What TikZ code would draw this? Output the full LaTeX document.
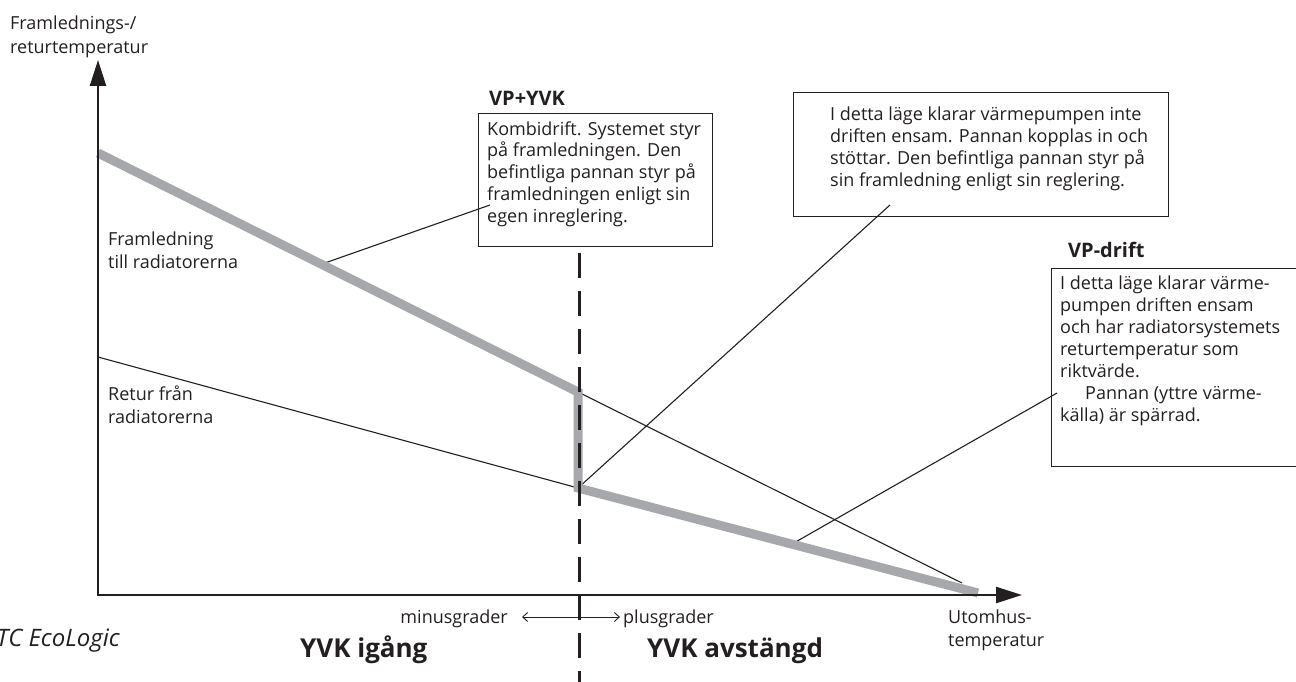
\documentclass[tikz,border=0pt]{standalone}
\usepackage{fontspec}
\setmainfont{Open Sans}
\usetikzlibrary{arrows.meta}
\definecolor{ink}{RGB}{35,31,32}
\definecolor{band}{RGB}{166,168,171}
\newcommand{\topstrut}{\rule{0pt}{14pt}}
\begin{document}
\begin{tikzpicture}[x=1pt,y=-1pt,
  lbl/.style={inner sep=0pt, anchor=base west, text=ink, font=\fontsize{18}{22}\selectfont},
  para/.style={inner sep=0pt, anchor=north west, align=left, text=ink},
  headlbl/.style={inner sep=0pt, anchor=base west, text=ink, font=\fontsize{20}{22}\selectfont\bfseries},
  biglbl/.style={inner sep=0pt, anchor=base west, text=ink, font=\fontsize{26}{30}\selectfont\bfseries},
  infobox/.style={draw=ink, line width=1.3pt, inner sep=0pt, anchor=north west},
  axisline/.style={draw=ink, line width=2.4pt, line join=miter},
  thinline/.style={draw=ink, line width=1.1pt},
  bandline/.style={draw=band, line width=9pt, line join=miter, line cap=butt},
  divider/.style={draw=ink, line width=3pt, dash pattern=on 25pt off 13pt},
  tipbig/.tip={Triangle[length=26pt,width=16pt]},
  tipsmall/.tip={Straight Barb[length=5pt,width=9pt]}
]
\useasboundingbox (0,0) rectangle (1296,682);

% key coordinates
\coordinate (O) at (98,595);
\coordinate (ytop) at (98,60);
\coordinate (xend) at (1022,595);
\coordinate (s0) at (98,153);
\coordinate (s1) at (578,392);
\coordinate (r1) at (578,488);
\coordinate (rend) at (978,593);
\coordinate (sthin) at (962,583);
\coordinate (r0) at (98,357);

% thin curves
\draw[thinline] (s1) -- (sthin);
\draw[thinline] (r0) -- (r1);

% boxes
\node[infobox, minimum width=234pt, minimum height=133pt] (boxA) at (478,113) {};
\node[infobox, minimum width=375pt, minimum height=124pt] (boxB) at (793,92) {};
\node[infobox, minimum width=250pt, minimum height=198pt] (boxC) at (1051,268) {};

% leader lines
\coordinate (pA) at (322,264);
\coordinate (eA) at (490,205);
\coordinate (eB) at (890,205);
\coordinate (pC) at (792,544);
\coordinate (eC) at (1057,393);
\draw[thinline] (pA) -- (eA);
\draw[thinline] (r1) -- (eB);
\draw[thinline] (pC) -- (eC);

% thick grey band
\draw[bandline] (s0) -- (s1) -- (r1) -- (rend);

% axes
\draw[axisline, tipbig-tipbig] (ytop) -- (O) -- (xend);

% divider
\coordinate (dtop) at (579,253);
\coordinate (dbot) at (579,690);
\draw[divider] (dtop) -- (dbot);

% texts
\node[para, font=\fontsize{18}{24}\selectfont] (ylab) at (10,15) {\topstrut Framlednings-/\\returtemperatur};
\node[para, font=\fontsize{18}{23}\selectfont] (flab) at (108,231) {\topstrut Framledning\\till radiatorerna};
\node[para, font=\fontsize{18}{23}\selectfont] (rlab) at (108,386) {\topstrut Retur från\\radiatorerna};

\node[headlbl] (hA) at (489,106) {VP+YVK};
\node[headlbl] (hC) at (1068,257) {VP-drift};

\node[para, font=\fontsize{18}{21.7}\selectfont] (tA) at (487,121) {\topstrut Kombidrift. Systemet styr\\på framledningen. Den\\befintliga pannan styr på\\framledningen enligt sin\\egen inreglering.};
\node[para, font=\fontsize{18}{22}\selectfont] (tB) at (830,106) {\topstrut I detta läge klarar värmepumpen inte\\driften ensam. Pannan kopplas in och\\stöttar. Den befintliga pannan styr på\\sin framledning enligt sin reglering.};
\node[para, font=\fontsize{18}{22}\selectfont] (tC) at (1060,275) {\topstrut I detta läge klarar värme-\\pumpen driften ensam\\och har radiatorsystemets\\returtemperatur som\\riktvärde.\\\hspace*{25pt}Pannan (yttre värme-\\källa) är spärrad.};

\node[lbl, anchor=base east] (minus) at (508,623) {minusgrader};
\node[lbl] (plus) at (623,623) {plusgrader};
\coordinate (am) at (522,617);
\coordinate (ap) at (620,617);
\draw[ink, line width=0.9pt, tipsmall-tipsmall] (am) -- (ap);

\node[para, font=\fontsize{18}{23}\selectfont] (xlab) at (948,609) {\topstrut Utomhus-\\temperatur};

\node[biglbl] (on) at (300,657) {YVK igång};
\node[biglbl] (off) at (647,657) {YVK avstängd};

\node[inner sep=0pt, anchor=base east, text=ink, font=\fontsize{24}{28}\selectfont\itshape] (brand) at (120,646) {TC EcoLogic};
\end{tikzpicture}
\end{document}
